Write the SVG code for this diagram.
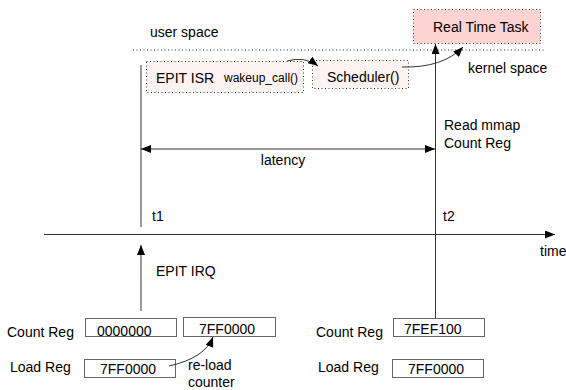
<svg xmlns="http://www.w3.org/2000/svg" width="566" height="390" viewBox="0 0 566 390">
<style>
text{font-family:"Liberation Sans",Arial,sans-serif;font-size:14px;fill:#000}
.sm{font-size:12px}
.ln{stroke:#333;stroke-width:1;fill:none}
.dot{stroke:#333;stroke-width:1;stroke-dasharray:1 2.5}
.reg{fill:#fff;stroke:#666;stroke-width:1}
</style>
<defs>
<marker id="ah" markerWidth="10" markerHeight="8" refX="10" refY="4" orient="auto" markerUnits="userSpaceOnUse">
<path d="M0,0 L10,4 L0,8 z" fill="#000"/>
</marker>
<marker id="ahs" markerWidth="10" markerHeight="8" refX="0" refY="4" orient="auto" markerUnits="userSpaceOnUse">
<path d="M10,0 L0,4 L10,8 z" fill="#000"/>
</marker>
</defs>
<text x="150" y="37">user space</text>
<text x="468" y="73">kernel space</text>
<line class="dot" x1="133" y1="50" x2="546" y2="50"/>
<g id="rtt">
<rect x="413.5" y="9.5" width="127" height="34" fill="#fdd4d2" class="dot"/>
<text x="433" y="32">Real Time Task</text>
</g>
<g id="epit-isr">
<rect x="146.5" y="61.5" width="157" height="31" fill="#fdf3f2" class="dot"/>
<text x="156" y="83">EPIT ISR</text>
<text class="sm" x="224" y="82">wakeup_call()</text>
</g>
<g id="scheduler">
<rect x="312.5" y="60.5" width="96" height="28" fill="#fdf3f2" class="dot"/>
<text x="327" y="82">Scheduler()</text>
</g>
<g id="labels">
<text x="444" y="130">Read mmap</text>
<text x="444" y="148">Count Reg</text>
<text x="283" y="165" text-anchor="middle">latency</text>
<text x="152" y="221">t1</text>
<text x="443" y="221">t2</text>
<text x="540" y="256">time</text>
<text x="156" y="276">EPIT IRQ</text>
</g>
<g id="regs-t1">
<text x="7" y="337">Count Reg</text>
<rect class="reg" x="85.5" y="318.5" width="91" height="18"/>
<text x="97" y="336">0000000</text>
<rect class="reg" x="183.5" y="317.5" width="92" height="19"/>
<text x="199" y="334">7FF0000</text>
<text x="10" y="372">Load Reg</text>
<rect class="reg" x="84.5" y="359.5" width="91" height="18"/>
<text x="100" y="374">7FF0000</text>
<text x="188" y="370">re-load</text>
<text x="188" y="387">counter</text>
</g>
<g id="regs-t2">
<text x="316" y="337">Count Reg</text>
<rect class="reg" x="393.5" y="318.5" width="91" height="18"/>
<text x="404" y="334">7FEF100</text>
<text x="318" y="372">Load Reg</text>
<rect class="reg" x="392.5" y="359.5" width="91" height="18"/>
<text x="408" y="374">7FF0000</text>
</g>
<g id="connectors">
<line class="ln" x1="44" y1="234.5" x2="555" y2="234.5" marker-end="url(#ah)"/>
<line class="ln" x1="141" y1="65" x2="141" y2="227"/>
<line class="ln" x1="141" y1="311" x2="141" y2="245" marker-end="url(#ah)"/>
<line class="ln" x1="435.5" y1="318" x2="435.5" y2="44" marker-end="url(#ah)"/>
<line class="ln" x1="141" y1="149" x2="435" y2="149" marker-start="url(#ahs)" marker-end="url(#ah)"/>
<path class="ln" d="M287,61 Q305,56 318,66" marker-end="url(#ah)"/>
<path class="ln" d="M402,67 Q443,68 463,47" marker-end="url(#ah)"/>
<path class="ln" d="M169,366 Q205,358 213,337" marker-end="url(#ah)"/>
</g>
</svg>
